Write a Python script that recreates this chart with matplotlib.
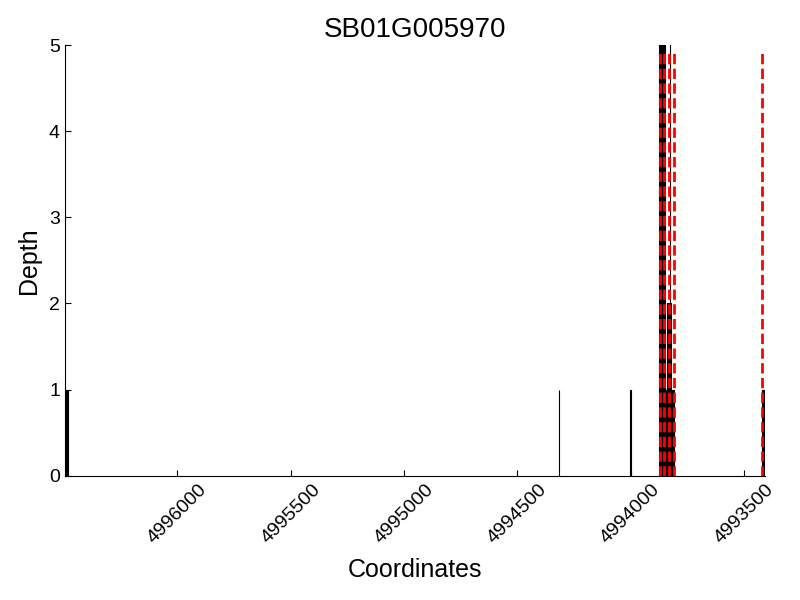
import numpy as np
import matplotlib.pyplot as plt

plt.rcParams['font.family'] = ['Liberation Sans', 'DejaVu Sans']

# Coverage blocks (start, end in bp) and read depth
cov_start = [4996495, 4994318, 4994001, 4993875, 4993848, 4993839, 4993828, 4993824, 4993419]
cov_end = [4996485, 4994316, 4993999, 4993848, 4993824, 4993824, 4993826, 4993808, 4993408]
cov_depth = [1, 1, 1, 8, 1, 2, 8, 1, 1]

# Feature boundaries (red dashed lines)
marks = [4993869, 4993852, 4993830, 4993810, 4993421]

x_min, x_max = 4993408, 4996497
xticks = [4996000, 4995500, 4995000, 4994500, 4994000, 4993500]

fig = plt.figure(figsize=(8, 6), dpi=100)
ax = fig.add_axes([0.081, 0.207, 0.875, 0.718])

starts = np.array(cov_start)
ends = np.array(cov_end)
ax.bar(ends, np.array(cov_depth), width=starts - ends, align='edge',
       color='black', edgecolor='black', linewidth=0.8)

ax.vlines(marks, 0, 4.93, colors='red', linestyles='--', linewidth=2)

ax.set_xlim(x_max, x_min)
ax.set_ylim(0, 5)
ax.set_xticks(xticks)
ax.set_xticklabels([str(t) for t in xticks], rotation=45, ha='center')

ax.spines['top'].set_visible(False)
ax.spines['right'].set_visible(False)
ax.tick_params(direction='in', length=4, labelsize=14, top=False, right=False)

ax.set_title('SB01G005970', fontsize=20)
ax.set_xlabel('Coordinates', fontsize=18, labelpad=8)
ax.set_ylabel('Depth', fontsize=18, labelpad=6)

fig.savefig('out.png', dpi=100)
